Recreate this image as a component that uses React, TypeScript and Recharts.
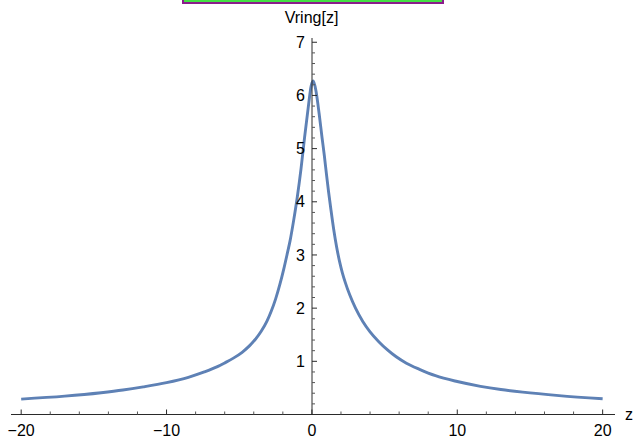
import { LineChart, Line, XAxis, YAxis } from 'recharts';

// Vring[z]
const zValues = [
  -20, -17, -14.5, -13, -11.6, -10, -8.5, -7.4, -6.5, -6, -5.4, -4.8, -4.3, -3.9, -3.5, -3.1, -2.8,
  -2.5, -2.2, -1.95, -1.7, -1.5, -1.25, -1.0, -0.75, -0.5, -0.25, -0.05, 0.1, 0.3, 0.5, 0.7, 0.85,
  1.0, 1.15, 1.3, 1.5, 1.7, 1.9, 2.1, 2.3, 2.6, 3.0, 3.5, 4.0, 4.6, 5.2, 5.8, 6.5, 7.4, 8.5, 10,
  11.6, 13, 14.5, 17, 20,
];
const vValues = [
  0.29, 0.345, 0.41, 0.46, 0.52, 0.6, 0.7, 0.8, 0.9, 0.97, 1.06, 1.17, 1.29, 1.41, 1.56, 1.75, 1.94,
  2.17, 2.45, 2.72, 3.02, 3.27, 3.66, 4.1, 4.62, 5.22, 5.78, 6.18, 6.27, 6.05, 5.65, 5.2, 4.88,
  4.52, 4.18, 3.87, 3.48, 3.15, 2.88, 2.66, 2.48, 2.25, 2.0, 1.75, 1.555, 1.37, 1.215, 1.085, 0.965,
  0.85, 0.73, 0.62, 0.53, 0.47, 0.42, 0.355, 0.295,
];

const xMajorTicks = [-20, -10, 0, 10, 20];
const xMinorTicks = [-18, -16, -14, -12, -8, -6, -4, -2, 2, 4, 6, 8, 12, 14, 16, 18];
const yMajorTicks = [1, 2, 3, 4, 5, 6, 7];
const yMinorTicks = [
  0.2, 0.4, 0.6, 0.8, 1.2, 1.4, 1.6, 1.8, 2.2, 2.4, 2.6, 2.8, 3.2, 3.4, 3.6, 3.8,
  4.2, 4.4, 4.6, 4.8, 5.2, 5.4, 5.6, 5.8, 6.2, 6.4, 6.6, 6.8,
];

const xDomain: [number, number] = [-20.7, 20.85];
const yDomain: [number, number] = [0, 7.08];

const data = zValues.map((z, i) => ({ z, v: vValues[i] }));
const xTicks = [...xMajorTicks, ...xMinorTicks].sort((a, b) => a - b);
const yTicks = [...yMajorTicks, ...yMinorTicks].sort((a, b) => a - b);

const W = 637;
const H = 441;
const FONT = 'Liberation Sans, Arial, sans-serif';
const AXIS = '#2a2a2a';
const MINOR = '#555';
const fmtX = (v: number) => (v < 0 ? `\u2212${Math.abs(v)}` : `${v}`);

function XTick(props: any) {
  const { x, y, payload } = props;
  const major = xMajorTicks.includes(payload.value);
  return (
    <g>
      <line x1={x} x2={x} y1={y} y2={y - (major ? 5 : 3)} stroke={major ? AXIS : MINOR} />
      {major && (
        <text x={x} y={y + 21.5} textAnchor="middle" fontSize={16} fontFamily={FONT} fill="#000">
          {fmtX(payload.value)}
        </text>
      )}
    </g>
  );
}

function YTick(props: any) {
  const { x, y, payload } = props;
  const major = yMajorTicks.includes(payload.value);
  return (
    <g>
      <line x1={x} x2={x + (major ? 5 : 3)} y1={y} y2={y} stroke={major ? AXIS : MINOR} />
      {major && (
        <text x={x - 7} y={y + 5.7} textAnchor="end" fontSize={16} fontFamily={FONT} fill="#000">
          {payload.value}
        </text>
      )}
    </g>
  );
}

function ZLabel(props: any) {
  const vb = props.viewBox;
  return (
    <text x={vb.x + vb.width + 10} y={vb.y + 5} fontSize={16} fontFamily={FONT} fill="#000">
      z
    </text>
  );
}

export default function App() {
  return (
    <div
      style={{
        position: 'absolute',
        left: 0,
        top: 0,
        width: W,
        height: H,
        overflow: 'hidden',
        background: '#fff',
        fontFamily: FONT,
      }}
    >
      {/* frame edge peeking in at the top */}
      <div
        style={{
          position: 'absolute',
          left: 182,
          top: -10,
          width: 258,
          height: 10,
          border: '2px solid #8b1c8b',
          boxShadow: 'inset 0 0 0 2px #44e044',
        }}
      />

      {/* curve + x axis */}
      <div style={{ position: 'absolute', left: 0, top: 0 }}>
        <LineChart width={W} height={H} data={data} margin={{ top: 38, right: 22, bottom: 0, left: 11 }}>
          <XAxis
            dataKey="z"
            type="number"
            domain={xDomain}
            allowDataOverflow
            ticks={xTicks}
            interval={0}
            height={26.5}
            tickSize={0}
            tickMargin={0}
            tick={<XTick />}
            tickLine={false}
            axisLine={{ stroke: AXIS }}
            label={<ZLabel />}
          />
          <YAxis hide domain={yDomain} allowDataOverflow type="number" />
          <Line
            type="monotone"
            dataKey="v"
            stroke="#5e81b5"
            strokeWidth={2.9}
            dot={false}
            isAnimationActive={false}
          />
        </LineChart>
      </div>

      {/* y axis through z = 0 */}
      <div style={{ position: 'absolute', left: 0, top: 0 }}>
        <LineChart width={W} height={H} data={data} margin={{ top: 38, right: 22, bottom: 26.5, left: 311 }}>
          <XAxis dataKey="z" type="number" hide domain={[0, 20.85]} allowDataOverflow />
          <YAxis
            type="number"
            domain={yDomain}
            allowDataOverflow
            ticks={yTicks}
            interval={0}
            width={1}
            tickSize={0}
            tickMargin={0}
            tick={<YTick />}
            tickLine={false}
            axisLine={{ stroke: AXIS }}
            label={{
              value: 'Vring[z]',
              position: 'top',
              offset: 15,
              style: { fontSize: 16, fontFamily: FONT, fill: '#000' },
            }}
          />
        </LineChart>
      </div>
    </div>
  );
}
